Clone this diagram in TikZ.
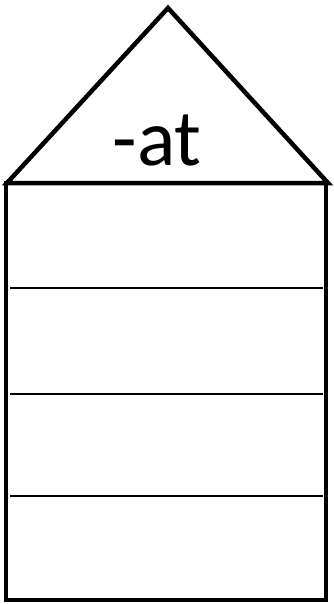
\documentclass[tikz,border=0pt]{standalone}
\usepackage{fontspec}
\setmainfont{Carlito}
\usetikzlibrary{positioning}

\begin{document}
\begin{tikzpicture}[
  x=1pt, y=-1pt,
  outline/.style={draw=black, line width=4.5pt, line join=miter},
  rung/.style={draw=black, line width=2pt},
  rooftext/.style={font=\fontsize{80}{80}\selectfont, inner sep=0pt, anchor=base}
]
  \useasboundingbox (0,0) rectangle (334,604);

  % roof
  \coordinate (roof-l) at (7,183);
  \coordinate (roof-r) at (328,183);
  \coordinate (apex) at (168,8);
  \draw[outline] (roof-l) -- (apex) -- (roof-r) -- cycle;
  \node[rooftext] (ending) at (157,165) {-at};

  % body
  \coordinate (body-nw) at (6,183);
  \coordinate (body-se) at (326,600);
  \draw[outline] (body-nw) rectangle (body-se);

  % rows
  \foreach \y [count=\i] in {288,394,496} {
    \coordinate (row\i-l) at (10,\y);
    \coordinate (row\i-r) at (323,\y);
    \draw[rung] (row\i-l) -- (row\i-r);
  }
\end{tikzpicture}
\end{document}
